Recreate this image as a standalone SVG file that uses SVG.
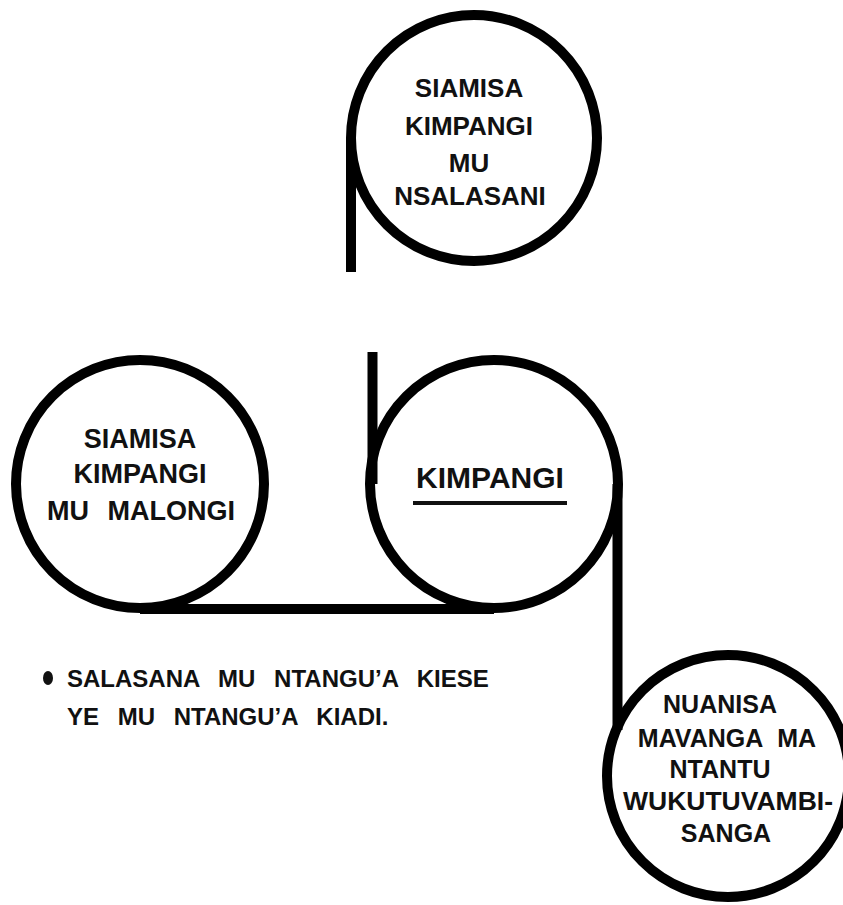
<svg xmlns="http://www.w3.org/2000/svg" width="843" height="905" viewBox="0 0 843 905">
<style>
.c{fill:none;stroke:#000;stroke-width:10}
.l{fill:none;stroke:#000;stroke-width:10}
.t{font-family:"Liberation Sans",Arial,sans-serif;font-weight:bold;fill:#111;text-anchor:middle}
.n{font-family:"Liberation Sans",Arial,sans-serif;font-weight:bold;font-size:24px;fill:#111;word-spacing:12px}
</style>
<rect width="843" height="905" fill="#fff"/>
<g id="connectors">
<line class="l" x1="351" y1="138" x2="351" y2="272"/>
<line class="l" x1="372.5" y1="352" x2="372.5" y2="484"/>
<line class="l" x1="140" y1="609" x2="494" y2="609"/>
<line class="l" x1="617.5" y1="484" x2="617.5" y2="730"/>
</g>
<g id="node-top">
<circle class="c" cx="474" cy="138" r="123"/>
<text class="t" font-size="26" x="469" y="97">SIAMISA</text>
<text class="t" font-size="26" x="469" y="135">KIMPANGI</text>
<text class="t" font-size="26" x="469" y="172">MU</text>
<text class="t" font-size="26" x="470" y="205">NSALASANI</text>
</g>
<g id="node-left">
<circle class="c" cx="140" cy="484" r="124"/>
<text class="t" font-size="27" x="140" y="448">SIAMISA</text>
<text class="t" font-size="27" x="140" y="483">KIMPANGI</text>
<text class="t" font-size="27" x="141" y="520" word-spacing="11">MU MALONGI</text>
</g>
<g id="node-center">
<circle class="c" cx="494" cy="484" r="124"/>
<text class="t" font-size="30" x="490" y="488">KIMPANGI</text>
<rect x="413" y="501" width="154" height="4" fill="#111"/>
</g>
<g id="node-bottom">
<circle class="c" cx="728" cy="776" r="121"/>
<text class="t" font-size="25" x="720" y="713">NUANISA</text>
<text class="t" font-size="25" x="727" y="747" word-spacing="8">MAVANGA MA</text>
<text class="t" font-size="25" x="720" y="778">NTANTU</text>
<text class="t" font-size="26.5" x="728" y="810">WUKUTUVAMBI-</text>
<text class="t" font-size="25" x="726" y="842">SANGA</text>
</g>
<g id="note">
<ellipse cx="48" cy="678" rx="5" ry="7" fill="#111"/>
<text class="n" x="67" y="687">SALASANA MU NTANGU’A KIESE</text>
<text class="n" x="67" y="725">YE MU NTANGU’A KIADI.</text>
</g>
</svg>
